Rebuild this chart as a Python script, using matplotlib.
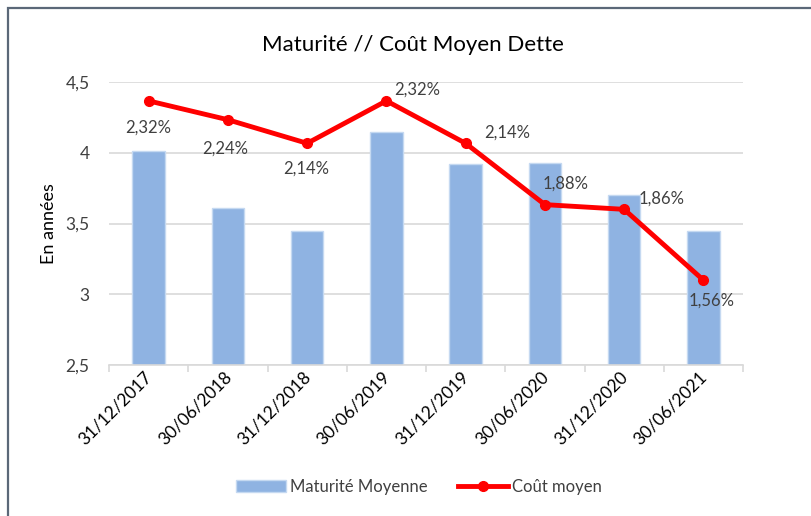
import matplotlib.pyplot as plt
from matplotlib.patches import Rectangle
import numpy as np

plt.rcParams['font.family'] = ['Lato', 'DejaVu Sans']

# ----- data -----
dates = ['31/12/2017', '30/06/2018', '31/12/2018', '30/06/2019',
         '31/12/2019', '30/06/2020', '31/12/2020', '30/06/2021']
maturite = [4.01, 3.61, 3.45, 4.15, 3.92, 3.93, 3.70, 3.45]
cout = [2.32, 2.24, 2.14, 2.32, 2.14, 1.88, 1.86, 1.56]

# label offsets (points) for the cost labels
label_offsets = [(0, -19), (-2, -21), (-1, -18), (22, 8), (30, 8), (15, 15), (27, 8), (6, -15)]

txt = '#404040'
fig = plt.figure(figsize=(8.11, 5.16), dpi=100)
fig.patches.append(Rectangle((8 / 811, -0.1), 1.2, 1 - 8 / 516 + 0.1, transform=fig.transFigure,
                             fill=False, edgecolor='#5B6878', lw=1.6))

ax = fig.add_axes([109 / 811, 1 - 365 / 516, 634 / 811, 283 / 516])
x = np.arange(len(dates))
bars = ax.bar(x, maturite, width=0.41, color='#8FB3E2', edgecolor='#C5D9F1', lw=1,
              label='Maturité Moyenne', zorder=2)
ax.set_ylim(2.5, 4.5)
ax.set_xlim(-0.5, len(dates) - 0.5)
ax.set_yticks([2.5, 3, 3.5, 4, 4.5])
ax.set_yticklabels(['2,5', '3', '3,5', '4', '4,5'], fontsize=12.5, color=txt)
ax.grid(axis='y', color='#D9D9D9', lw=1.2, zorder=0)
ax.set_axisbelow(True)
for s in ['top', 'right', 'left']:
    ax.spines[s].set_visible(False)
ax.spines['bottom'].set_color('#D9D9D9')
ax.spines['bottom'].set_linewidth(1.2)
ax.tick_params(axis='y', length=0, pad=14)
ax.set_xticks(x)
ax.set_xticklabels(dates, rotation=45, ha='right', va='center_baseline', rotation_mode='anchor',
                   fontsize=12.5, color='black')
ax.tick_params(axis='x', length=0, pad=6)
ax.set_xticks(np.arange(-0.5, len(dates)), minor=True)
ax.tick_params(axis='x', which='minor', length=5, color='#D9D9D9', width=1.2)
ax.set_ylabel('En années', fontsize=13, color='black', labelpad=6)

ax2 = ax.twinx()
line, = ax2.plot(x, cout, color='#FF0000', lw=3.5, marker='o', markersize=7,
                 label='Coût moyen', zorder=3)
ax2.set_ylim(1.2, 2.4)
ax2.axis('off')
for xi, v, off in zip(x, cout, label_offsets):
    ax2.annotate(f'{v:.2f}%'.replace('.', ','), (xi, v), xytext=off, textcoords='offset points',
                 ha='center', va='center', fontsize=12, color=txt)

fig.text(413 / 811, 1 - 45 / 516, 'Maturité // Coût Moyen Dette', ha='center', va='center',
         fontsize=16, color='black')

fig.legend([bars, line], ['Maturité Moyenne', 'Coût moyen'], loc='center',
           bbox_to_anchor=(419 / 811, 1 - 487 / 516), ncol=2, frameon=False,
           fontsize=12, labelcolor=txt, handlelength=3, handletextpad=0.25, columnspacing=1.8)

plt.savefig('out.png', dpi=100)
